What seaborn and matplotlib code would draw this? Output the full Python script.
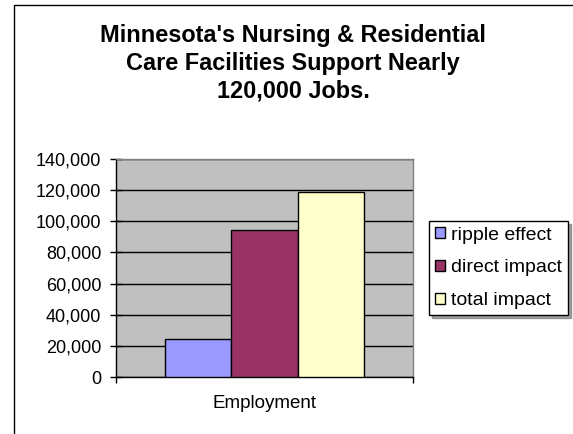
import matplotlib
matplotlib.use("Agg")
import matplotlib.pyplot as plt
import seaborn as sns
import pandas as pd
from matplotlib.patches import Rectangle
from matplotlib.ticker import FuncFormatter, FixedLocator

categories = ["Employment"]
series = ["ripple effect", "direct impact", "total impact"]
values = [24500, 94100, 118600]
colors = ["#9999FF", "#993366", "#FFFFCC"]

df = pd.DataFrame({"category": categories * len(series),
                   "series": series,
                   "jobs": values})

sns.set_style("white")
plt.rcParams["font.family"] = ["Liberation Sans", "DejaVu Sans"]
for key in ["text.color", "axes.labelcolor", "xtick.color", "ytick.color"]:
    plt.rcParams[key] = "black"

W, H = 573, 434
fig = plt.figure(figsize=(W / 100, H / 100), dpi=100)
ax = fig.add_axes([116 / W, 1 - 377 / H, (413 - 116) / W, (377 - 159) / H])

sns.barplot(data=df, x="category", y="jobs", hue="series", palette=colors,
            width=0.67, edgecolor="black", linewidth=1, saturation=1,
            ax=ax, zorder=3)

ax.set_facecolor("#C0C0C0")
ax.set_xlim(-0.5, 0.5)
ax.set_ylim(0, 140000)
ax.set_yticks(range(0, 140001, 20000))
ax.yaxis.set_major_formatter(FuncFormatter(lambda v, p: f"{v:,.0f}"))
ax.grid(axis="y", color="black", linewidth=1, zorder=1)
ax.set_axisbelow(True)
ax.set_xlabel("")
ax.set_ylabel("")

for s in ["top", "right"]:
    ax.spines[s].set_color("#808080")
    ax.spines[s].set_linewidth(1)
for s in ["left", "bottom"]:
    ax.spines[s].set_color("black")
    ax.spines[s].set_linewidth(1)

ax.tick_params(axis="y", direction="inout", length=9, width=1, color="black",
               labelsize=13, pad=6, left=True)
ax.tick_params(axis="x", which="major", length=0, labelsize=13.5, pad=13)
ax.xaxis.set_minor_locator(FixedLocator([-0.5, 0.5]))
ax.tick_params(axis="x", which="minor", direction="out", length=4, width=1,
               color="black", bottom=True)

leg = ax.legend(loc="upper left", bbox_to_anchor=(429 / W, 1 - 221 / H),
                bbox_transform=fig.transFigure, borderaxespad=0,
                frameon=True, fancybox=False, shadow=True, fontsize=14,
                handlelength=0.5, handleheight=0.5, handletextpad=0.35,
                labelspacing=0.8, borderpad=0.3, title=None)
leg.get_frame().set_edgecolor("black")
leg.get_frame().set_linewidth(1)

fig.text(293 / W, 1 - 63.5 / H,
         "Minnesota's Nursing & Residential\nCare Facilities Support Nearly\n120,000 Jobs.",
         ha="center", va="center", fontsize=16.9, fontweight="bold",
         linespacing=1.27)

fig.patches.append(Rectangle((14 / W, -0.1), 1.2, 1 - 5 / H + 0.1,
                             transform=fig.transFigure, fill=False,
                             edgecolor="black", linewidth=1, clip_on=False))

fig.savefig("out.png", dpi=100)
